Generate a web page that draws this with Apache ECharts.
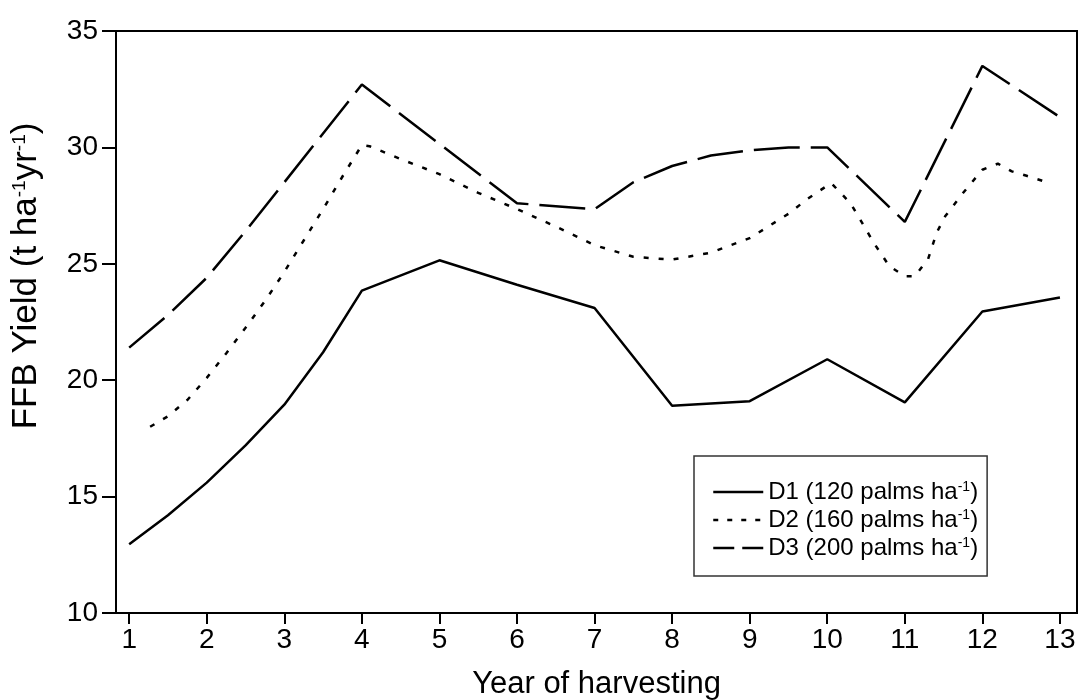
<!DOCTYPE html>
<html>
<head>
<meta charset="utf-8">
<script src="https://cdn.jsdelivr.net/npm/echarts@6/dist/echarts.min.js"></script>
<style>
  html, body { margin: 0; padding: 0; background: #fff; }
  #chart { width: 1082px; height: 700px; }
</style>
</head>
<body>
<div id="chart"></div>
<script>
// tick labels on the x axis
const years = [1, 2, 3, 4, 5, 6, 7, 8, 9, 10, 11, 12, 13];

// series names (superscript -1 is drawn with rich text)
const names = ["D1 (120 palms ha⁻¹)", "D2 (160 palms ha⁻¹)", "D3 (200 palms ha⁻¹)"];

// D1 - solid
const d1X = [1, 1.5, 2, 2.5, 3, 3.5, 4, 5, 6, 7, 8, 9, 10, 11, 12, 13];
const d1Y = [12.95, 14.2, 15.6, 17.2, 18.95, 21.2, 23.85, 25.15, 24.1, 23.1, 18.9, 19.1, 20.9, 19.05, 22.95, 23.55];

// D2 - dotted
const d2X = [1.27, 1.5, 1.75, 2, 2.25, 2.5, 2.75, 3, 3.25, 3.5, 3.75, 4, 4.1, 4.5, 5, 5.5, 6, 6.5, 7, 7.5, 8, 8.5, 9, 9.5, 9.75, 10.05, 10.3, 10.45, 10.6, 10.8, 11, 11.13, 11.3, 11.41, 11.52, 11.75, 12, 12.2, 12.38, 12.57, 12.8];
const d2Y = [18.0, 18.45, 19.15, 20.1, 21.15, 22.25, 23.4, 24.65, 26.0, 27.35, 28.75, 30.1, 30.05, 29.5, 28.85, 28.05, 27.35, 26.6, 25.8, 25.3, 25.18, 25.48, 26.1, 27.15, 27.8, 28.47, 27.6, 26.76, 25.9, 24.9, 24.47, 24.47, 25.2, 26.33, 27.04, 28.04, 29.04, 29.3, 28.97, 28.78, 28.54];

// D3 - long dash
const d3X = [1, 1.5, 2, 2.5, 3, 4, 5, 6, 7, 7.5, 8, 8.5, 9, 9.5, 10, 11, 12, 13];
const d3Y = [21.4, 22.8, 24.4, 26.4, 28.5, 32.7, 30.15, 27.6, 27.35, 28.5, 29.2, 29.65, 29.87, 30.0, 30.0, 26.8, 33.5, 31.3];

const font = "Liberation Sans, Arial, sans-serif";

function pairs(xs, ys) {
  return xs.map((x, i) => [x, ys[i]]);
}

// superscript helper for rich text
function supText(name) {
  const parts = name.split("⁻¹");
  let out = "";
  parts.forEach((p, i) => {
    if (p) out += "{t|" + p + "}";
    if (i < parts.length - 1) out += "{s|-1}";
  });
  return out;
}

const chart = echarts.init(document.getElementById("chart"));

const option = {
  animation: false,
  backgroundColor: "#fff",
  grid: {
    left: 116,
    right: 5,
    top: 31,
    bottom: 87,
    outerBoundsMode: "none",
    show: true,
    borderColor: "#000",
    borderWidth: 2,
  },
  legend: {
    orient: "vertical",
    left: 694,
    top: 456,
    borderColor: "#333",
    borderWidth: 1.5,
    padding: [24, 9, 16, 18],
    itemWidth: 50,
    itemHeight: 24,
    itemGap: 4,
    itemStyle: { opacity: 0 },
    data: [
      { name: names[0], lineStyle: { width: 2.5 } },
      { name: names[1], lineStyle: { width: 2.5, type: [5, 9] } },
      { name: names[2], lineStyle: { width: 2.5, type: [21, 8] } },
    ],
    formatter: (name) => supText(name),
    textStyle: {
      color: "#000",
      rich: {
        t: { fontSize: 24, fontFamily: font, color: "#000", lineHeight: 24 },
        s: { fontSize: 14, fontFamily: font, color: "#000", padding: [0, 0, 9, 0] },
      },
    },
  },
  xAxis: {
    type: "value",
    min: 0.83,
    max: 13.22,
    name: "Year of harvesting",
    nameLocation: "middle",
    nameGap: 56,
    nameTextStyle: { fontSize: 31, fontFamily: font, color: "#000" },
    axisLine: { lineStyle: { color: "#000", width: 2 } },
    axisTick: { length: 11, lineStyle: { color: "#000", width: 2 }, customValues: years },
    axisLabel: { fontSize: 28, fontFamily: font, color: "#000", margin: 13, customValues: years },
    splitLine: { show: false },
  },
  yAxis: {
    type: "value",
    min: 10,
    max: 35,
    interval: 5,
    name: "{t|FFB Yield (t ha}{s|-1}{t|yr}{s|-1}{t|)}",
    nameLocation: "middle",
    nameGap: 72,
    nameTextStyle: {
      padding: [0, 0, 0, 92],
      rich: {
        t: { fontSize: 35, fontFamily: font, color: "#000" },
        s: { fontSize: 19, fontFamily: font, color: "#000", padding: [0, 0, 13, 0] },
      },
    },
    axisLine: { show: true, lineStyle: { color: "#000", width: 2 } },
    axisTick: { show: true, length: 14, lineStyle: { color: "#000", width: 2 } },
    axisLabel: { fontSize: 28, fontFamily: font, color: "#000", margin: 18 },
    splitLine: { show: false },
  },
  series: [
    {
      name: names[0],
      type: "line",
      symbol: "none",
      data: pairs(d1X, d1Y),
      lineStyle: { color: "#000", width: 2.5 },
      itemStyle: { color: "#000" },
    },
    {
      name: names[1],
      type: "line",
      symbol: "none",
      data: pairs(d2X, d2Y),
      lineStyle: { color: "#000", width: 2.5, type: [5, 10] },
      itemStyle: { color: "#000" },
    },
    {
      name: names[2],
      type: "line",
      symbol: "none",
      data: pairs(d3X, d3Y),
      lineStyle: { color: "#000", width: 2.5, type: [46, 11] },
      itemStyle: { color: "#000" },
    },
  ],
};

chart.setOption(option);
</script>
</body>
</html>
